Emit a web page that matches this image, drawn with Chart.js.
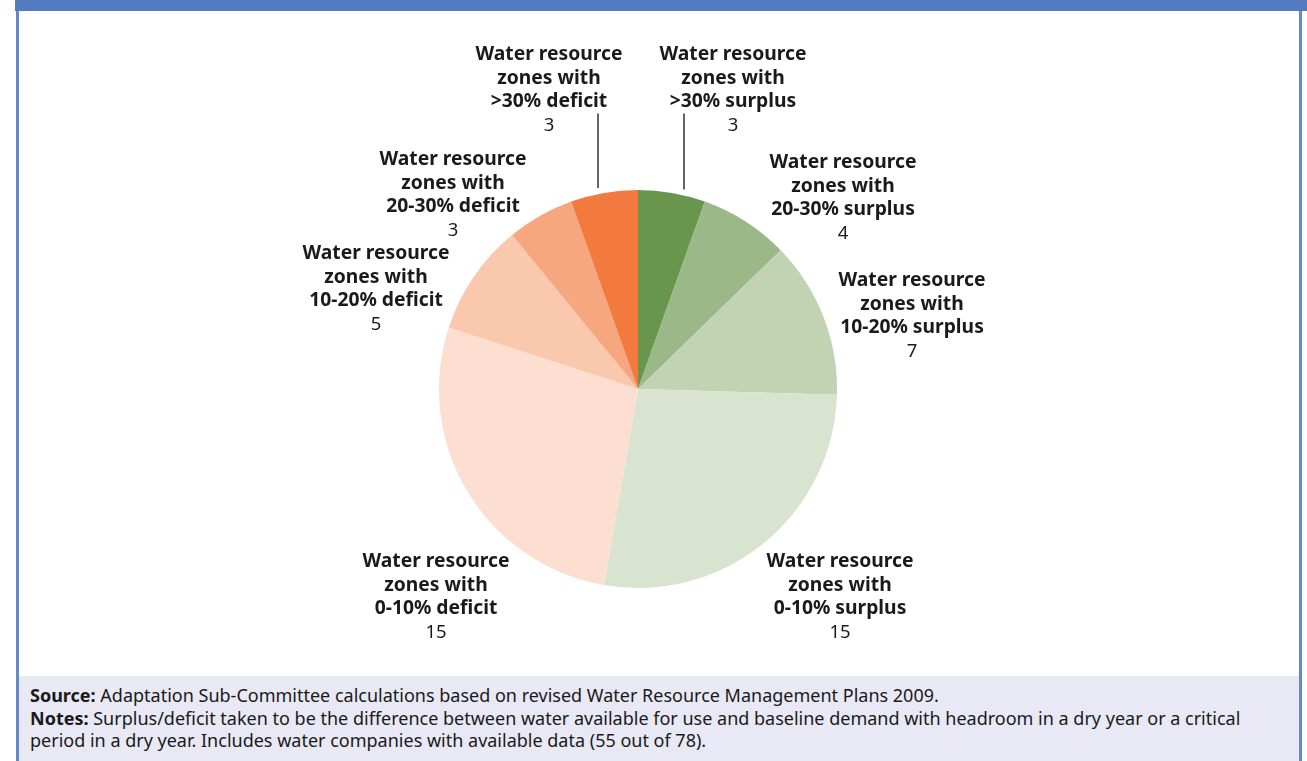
<!DOCTYPE html>
<html>
<head>
<meta charset="utf-8">
<script src="https://cdn.jsdelivr.net/npm/chart.js@4.4.0/dist/chart.umd.min.js"></script>
<style>
  html, body { margin: 0; padding: 0; background: #fff; }
  body { width: 1307px; height: 761px; position: relative; overflow: hidden; font-family: "Noto Sans", sans-serif; }
  #topbar { position: absolute; left: 15px; top: 0; width: 1292px; height: 11px; background: #537cc0; }
  #leftbar { position: absolute; left: 16px; top: 11px; width: 3px; height: 750px; background: #6389c8; }
  #rightbar { position: absolute; left: 1299px; top: 11px; width: 3px; height: 750px; background: #6389c8; }
  #box { position: absolute; left: 19px; top: 11px; width: 1280px; height: 665px; }
  #notes { position: absolute; left: 19px; top: 676px; width: 1280px; height: 85px; background: #e8e9f5;
           font-size: 18px; line-height: 22.5px; color: #1a1a1a; padding: 8px 0 0 11px; box-sizing: border-box; white-space: nowrap; }
</style>
</head>
<body>
<div id="topbar"></div>
<div id="leftbar"></div>
<div id="rightbar"></div>
<div id="box"><canvas id="myChart" width="1280" height="665"></canvas></div>
<div id="notes">
  <b>Source:</b> Adaptation Sub-Committee calculations based on revised Water Resource Management Plans 2009.<br>
  <b>Notes:</b> Surplus/deficit taken to be the difference between water available for use and baseline demand with headroom in a dry year or a critical<br>
  period in a dry year. Includes water companies with available data (55 out of 78).
</div>
<script>
const categorias = [">30% surplus", "20-30% surplus", "10-20% surplus", "0-10% surplus",
                    "0-10% deficit", "10-20% deficit", "20-30% deficit", ">30% deficit"];
const zonas = [3, 4, 7, 15, 15, 5, 3, 3];
const colores = ["#69964d", "#9bb889", "#c1d3b2", "#d8e4d0",
                 "#fcdfd1", "#f9c8ad", "#f6a77f", "#f37a3f"];

// where each label block sits, measured from the pie centre
const posEtiquetas = [
    {dx: 95, dy: -299, linea: 46},
    {dx: 205, dy: -191},
    {dx: 274, dy: -73},
    {dx: 202, dy: 208},
    {dx: -202, dy: 208},
    {dx: -262, dy: -100},
    {dx: -185, dy: -194},
    {dx: -89, dy: -299, linea: -40}
];

const etiquetas = {
    id: 'etiquetas',
    afterDraw(chart){
        const ctx = chart.ctx;
        const arcs = chart.getDatasetMeta(0).data;
        const cx = arcs[0].x, cy = arcs[0].y, r = arcs[0].outerRadius;
        const lh = 23.6;
        ctx.save();
        ctx.textAlign = 'center';
        ctx.textBaseline = 'middle';
        ctx.fillStyle = '#1a1a1a';
        for(let i=0;i<categorias.length;i++){
            const p = posEtiquetas[i];
            const x = cx + p.dx;
            const y0 = cy + p.dy - 1.5*lh;
            const lineas = ["Water resource", "zones with", categorias[i]];
            ctx.font = 'bold 19.3px "Noto Sans"';
            for(let j=0;j<3;j++){
                ctx.fillText(lineas[j], x, y0 + j*lh);
            }
            ctx.font = '18.5px "Noto Sans"';
            ctx.fillText(String(zonas[i]), x, y0 + 3*lh);
            if(p.linea !== undefined){
                const lx = cx + p.linea;
                const yTop = y0 + 3*lh - 12;
                const yBot = cy - Math.sqrt(r*r - p.linea*p.linea) - 6;
                ctx.strokeStyle = '#333';
                ctx.lineWidth = 1.5;
                ctx.beginPath();
                ctx.moveTo(lx, yTop);
                ctx.lineTo(lx, yBot);
                ctx.stroke();
            }
        }
        ctx.restore();
    }
};

function graficoPie(){
    const ctx = document.getElementById('myChart').getContext('2d');
    new Chart(ctx, {
        type: 'pie',
        data: {
            labels: categorias,
            datasets: [{
                data: zonas,
                backgroundColor: colores,
                borderWidth: 0
            }]
        },
        options: {
            responsive: false,
            animation: false,
            layout: {
                padding: {left: 0, right: 42, top: 179, bottom: 88}
            },
            plugins: {
                legend: { display: false },
                tooltip: { enabled: false }
            }
        },
        plugins: [etiquetas]
    });
}

window.addEventListener("load", graficoPie);
</script>
</body>
</html>
